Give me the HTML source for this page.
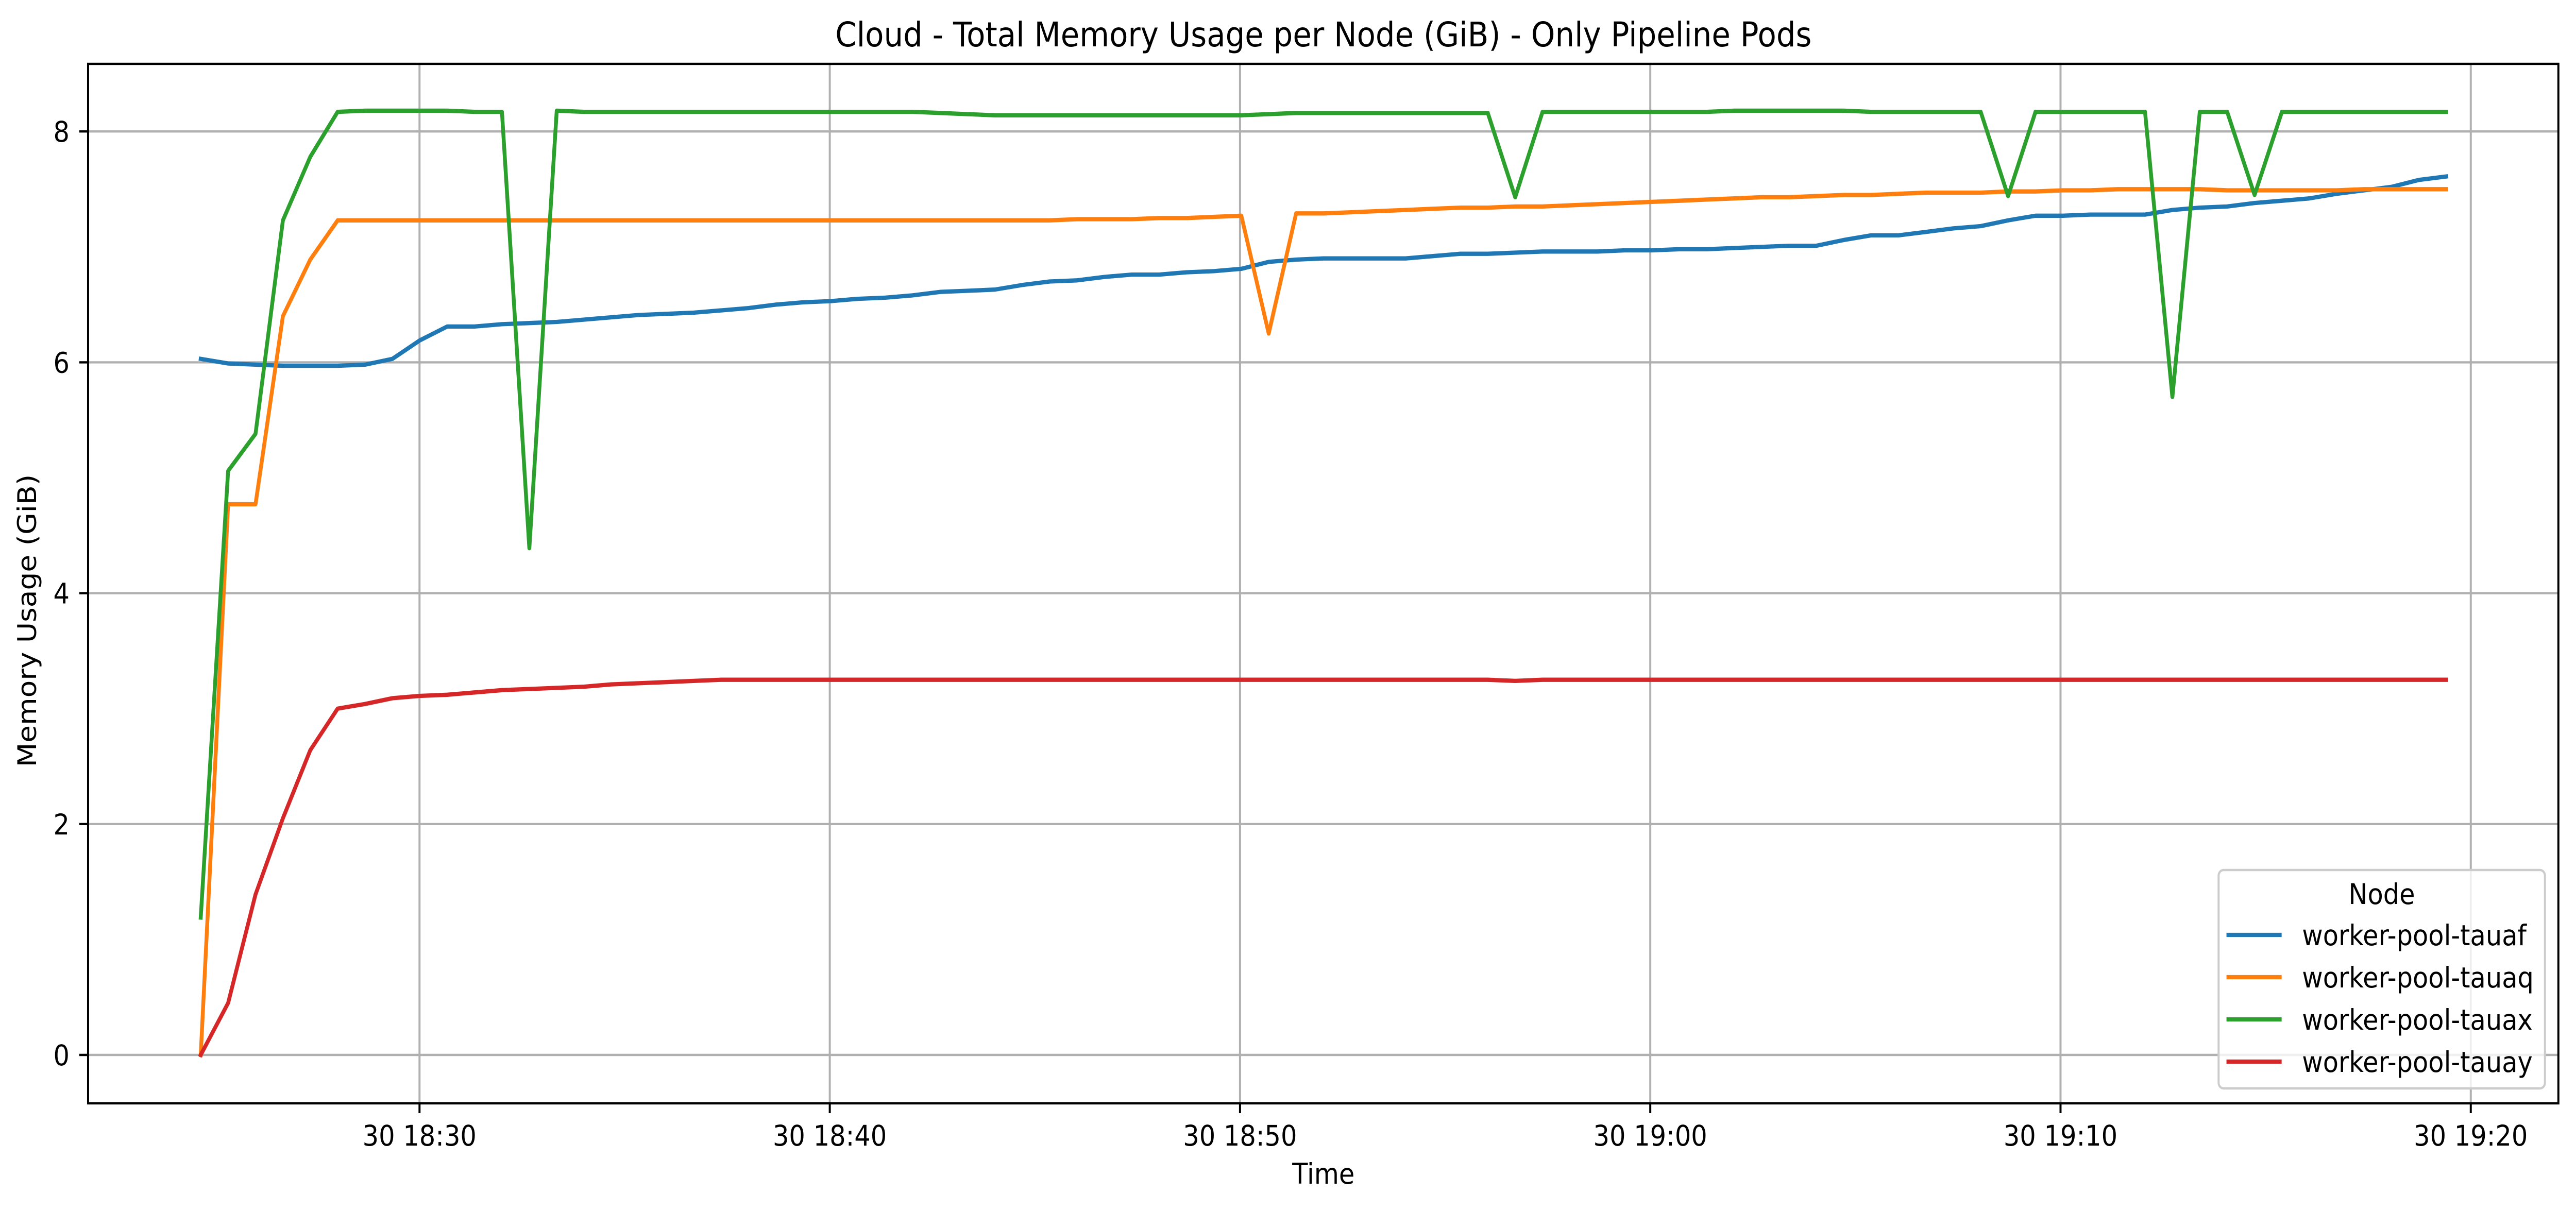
<!DOCTYPE html>
<html><head><meta charset="utf-8"><style>
html,body{margin:0;padding:0;background:#fff;width:100%;height:100%;overflow:hidden;}
svg{display:block;position:fixed;left:0;top:0;width:100vw;height:100vh;font-family:"DejaVu Sans","Liberation Sans",sans-serif;}
</style></head><body>
<svg id="chart" viewBox="0 0 5557 2351" preserveAspectRatio="none" xmlns="http://www.w3.org/2000/svg">
<rect width="5557" height="2351" fill="#fff"/>
<text x="2855" y="90" font-size="66" text-anchor="middle">Cloud - Total Memory Usage per Node (GiB) - Only Pipeline Pods</text>
<g id="grid"></g>
<g id="series"></g>
<rect x="190" y="124" width="5329" height="2018" fill="none" stroke="#000" stroke-width="4.4"/>
<g id="ticks"></g>
<text x="2855" y="2298" font-size="55" text-anchor="middle">Time</text>
<text x="0" y="0" font-size="55" text-anchor="middle" transform="translate(78,1205) rotate(-90)">Memory Usage (GiB)</text>
<g id="legend"></g>
</svg>
<script>
const tStart = -5.333;   // minutes relative to 18:30
const tStep = 0.6675;    // minutes between samples
const seriesNames = ["worker-pool-tauaf","worker-pool-tauaq","worker-pool-tauax","worker-pool-tauay"];
const seriesColors = ["#1f77b4","#ff7f0e","#2ca02c","#d62728"];
const tauaf = [6.03,5.99,5.98,5.97,5.97,5.97,5.98,6.03,6.19,6.31,
6.31,6.33,6.34,6.35,6.37,6.39,6.41,6.42,6.43,6.45,
6.47,6.50,6.52,6.53,6.55,6.56,6.58,6.61,6.62,6.63,
6.67,6.70,6.71,6.74,6.76,6.76,6.78,6.79,6.81,6.87,
6.89,6.90,6.90,6.90,6.90,6.92,6.94,6.94,6.95,6.96,
6.96,6.96,6.97,6.97,6.98,6.98,6.99,7.00,7.01,7.01,
7.06,7.10,7.10,7.13,7.16,7.18,7.23,7.27,7.27,7.28,
7.28,7.28,7.32,7.34,7.35,7.38,7.40,7.42,7.46,7.49,
7.52,7.58,7.61];
const tauaq = [0,4.77,4.77,6.40,6.89,7.23,7.23,7.23,7.23,7.23,
7.23,7.23,7.23,7.23,7.23,7.23,7.23,7.23,7.23,7.23,
7.23,7.23,7.23,7.23,7.23,7.23,7.23,7.23,7.23,7.23,
7.23,7.23,7.24,7.24,7.24,7.25,7.25,7.26,7.27,6.25,
7.29,7.29,7.30,7.31,7.32,7.33,7.34,7.34,7.35,7.35,
7.36,7.37,7.38,7.39,7.40,7.41,7.42,7.43,7.43,7.44,
7.45,7.45,7.46,7.47,7.47,7.47,7.48,7.48,7.49,7.49,
7.50,7.50,7.50,7.50,7.49,7.49,7.49,7.49,7.49,7.50,
7.50,7.50,7.50];
const tauax = [1.19,5.06,5.38,7.23,7.78,8.17,8.18,8.18,8.18,8.18,
8.17,8.17,4.39,8.18,8.17,8.17,8.17,8.17,8.17,8.17,
8.17,8.17,8.17,8.17,8.17,8.17,8.17,8.16,8.15,8.14,
8.14,8.14,8.14,8.14,8.14,8.14,8.14,8.14,8.14,8.15,
8.16,8.16,8.16,8.16,8.16,8.16,8.16,8.16,7.43,8.17,
8.17,8.17,8.17,8.17,8.17,8.17,8.18,8.18,8.18,8.18,
8.18,8.17,8.17,8.17,8.17,8.17,7.44,8.17,8.17,8.17,
8.17,8.17,5.70,8.17,8.17,7.45,8.17,8.17,8.17,8.17,
8.17,8.17,8.17];
const tauay = [0,0.45,1.39,2.05,2.64,3.00,3.04,3.09,3.11,3.12,
3.14,3.16,3.17,3.18,3.19,3.21,3.22,3.23,3.24,3.25,
3.25,3.25,3.25,3.25,3.25,3.25,3.25,3.25,3.25,3.25,
3.25,3.25,3.25,3.25,3.25,3.25,3.25,3.25,3.25,3.25,
3.25,3.25,3.25,3.25,3.25,3.25,3.25,3.25,3.24,3.25,
3.25,3.25,3.25,3.25,3.25,3.25,3.25,3.25,3.25,3.25,
3.25,3.25,3.25,3.25,3.25,3.25,3.25,3.25,3.25,3.25,
3.25,3.25,3.25,3.25,3.25,3.25,3.25,3.25,3.25,3.25,
3.25,3.25,3.25];
const yTicks = [0,2,4,6,8];
const xTickMinutes = [0,10,20,30,40,50];
const xTickLabels = ["30 18:30","30 18:40","30 18:50","30 19:00","30 19:10","30 19:20"];

const NS = "http://www.w3.org/2000/svg";
const L = 190, R = 5519, T = 124, B = 2142;
function xPos(m){ return 905 + m * 88.5; }
function yPos(v){ return 2048 - v * 224.1; }
function mk(tag, attrs, parent){ const e = document.createElementNS(NS, tag); for (const k in attrs) e.setAttribute(k, attrs[k]); parent.appendChild(e); return e; }

const grid = document.getElementById("grid");
const ticks = document.getElementById("ticks");
yTicks.forEach((v) => {
  const y = yPos(v);
  const g = mk("line", {x1:L, x2:R, y1:y, y2:y, stroke:"#b0b0b0", "stroke-width":4.4}, grid);
  
  
  const t = mk("line", {x1:L-19, x2:L, y1:y, y2:y, stroke:"#000", "stroke-width":4.4}, ticks);
  
  
  const lb = mk("text", {x:150, y:y+20, "font-size":55, "text-anchor":"end"}, ticks);
  lb.textContent = String(v);
  
  
});
xTickMinutes.forEach((m, i) => {
  const x = xPos(m);
  const g = mk("line", {x1:x, x2:x, y1:T, y2:B, stroke:"#b0b0b0", "stroke-width":4.4}, grid);
  
  
  const t = mk("line", {x1:x, x2:x, y1:B, y2:B+19, stroke:"#000", "stroke-width":4.4}, ticks);
  
  
  const lb = mk("text", {x:x, y:2224, "font-size":55, "text-anchor":"middle"}, ticks);
  lb.textContent = xTickLabels[i];
  
  
});

const seriesG = document.getElementById("series");
[tauaf, tauaq, tauax, tauay].forEach((vals, s) => {
  const pts = vals.map((v, i) => xPos(tStart + i * tStep).toFixed(1) + "," + yPos(v).toFixed(1)).join(" ");
  const p = mk("polyline", {points:pts, fill:"none", stroke:seriesColors[s], "stroke-width":8.3, "stroke-linejoin":"round", "stroke-linecap":"square"}, seriesG);
  
  
});

const leg = document.getElementById("legend");
const box = mk("rect", {x:4786, y:1689, width:704, height:424, rx:11, fill:"rgba(255,255,255,0.8)", stroke:"#cccccc", "stroke-width":4.4}, leg);


const lt = mk("text", {x:5138, y:1755, "font-size":55, "text-anchor":"middle"}, leg);
lt.textContent = "Node";


seriesNames.forEach((n, s) => {
  const cy = 1815 + s * 82;
  const g = mk("g", {}, leg);
  
  
  mk("line", {x1:4803, x2:4922, y1:cy, y2:cy, stroke:seriesColors[s], "stroke-width":8.3}, g);
  const t = mk("text", {x:4966, y:cy+20, "font-size":55}, g);
  t.textContent = n;
});
</script>
</body></html>
